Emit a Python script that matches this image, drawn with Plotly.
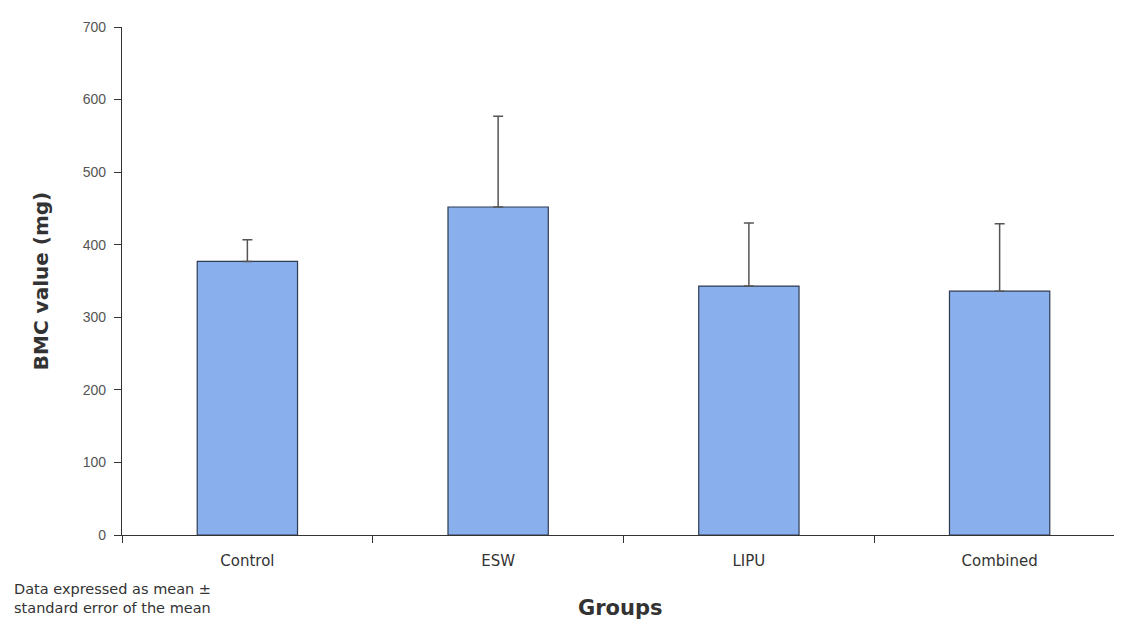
import plotly.graph_objects as go

groups = ["Control", "ESW", "LIPU", "Combined"]
bmc_mean = [377, 452, 343, 336]
bmc_se = [30, 125, 87, 93]
y_ticks = [0, 100, 200, 300, 400, 500, 600, 700]

# page has an 8px body margin; figure sized to fit the viewport
W, H = 1106, 615
OFF = 8
L, T = 122 - OFF, 27 - OFF
B = H - (535 - OFF)
plot_w = W - L


def px_x(x):
    return (x - OFF - L) / plot_w


fig = go.Figure()
fig.add_trace(go.Bar(
    x=groups, y=bmc_mean, width=0.4,
    marker=dict(color="#89B0EC", line=dict(color="#2f3a50", width=1.2)),
    error_y=dict(type="data", array=bmc_se, arrayminus=[0] * len(bmc_se),
                 symmetric=False, color="#555555", thickness=1.5, width=5),
    showlegend=False,
))

fig.update_layout(
    width=W, height=H,
    margin=dict(l=L, r=0, t=T, b=B),
    paper_bgcolor="white", plot_bgcolor="white",
    font=dict(family="Liberation Sans, Arial, sans-serif", color="#444444"),
    xaxis=dict(
        type="category", range=[-0.5, -0.5 + plot_w / 250.75],
        showline=True, linecolor="#333333", linewidth=1.2,
        ticks="outside", tickson="boundaries", ticklen=7, tickcolor="#333333",
        ticklabelstandoff=12,
        tickfont=dict(size=15, color="#333333", family="DejaVu Sans, sans-serif"),
        showgrid=False,
    ),
    yaxis=dict(
        range=[0, 700], tickvals=y_ticks,
        showline=True, linecolor="#333333", linewidth=1.2,
        ticks="outside", ticklen=7, tickcolor="#333333",
        ticklabelstandoff=5,
        tickfont=dict(size=14, color="#555555"),
        showgrid=False, zeroline=False,
        title=dict(text="<b>BMC value (mg)</b>",
                   font=dict(size=20, color="#333333", family="DejaVu Sans, sans-serif"),
                   standoff=28),
    ),
    annotations=[
        dict(text="<b>Groups</b>", x=px_x(620), y=0, xref="paper", yref="paper",
             xanchor="center", yanchor="middle", yshift=-(608 - 535),
             showarrow=False, font=dict(size=21, color="#333333",
                                        family="DejaVu Sans, sans-serif")),
        dict(text="Data expressed as mean ±<br>standard error of the mean",
             x=px_x(12), y=0, xref="paper", yref="paper", xanchor="left", yanchor="top",
             yshift=-(579 - 535), align="left", showarrow=False,
             font=dict(size=14.5, color="#333333", family="DejaVu Sans, sans-serif")),
    ],
)

fig.write_html("out.html")
